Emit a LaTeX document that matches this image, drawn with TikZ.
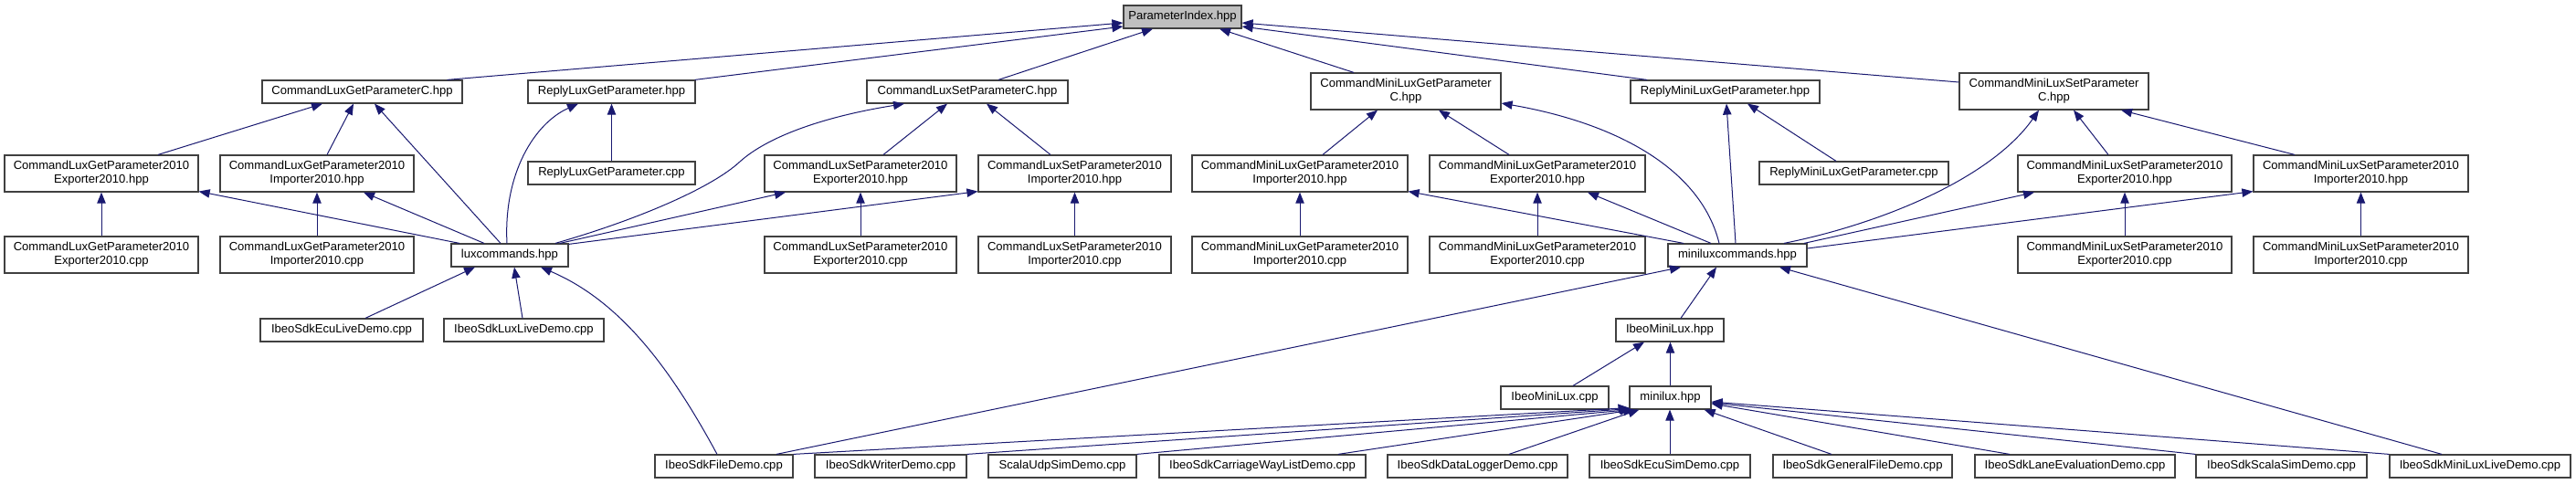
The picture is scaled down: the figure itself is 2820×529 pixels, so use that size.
\documentclass[tikz,border=0pt]{standalone}
\usepackage{fontspec}
\setmainfont{Liberation Sans}
\usetikzlibrary{arrows.meta,calc}
\definecolor{navy}{HTML}{191970}
\definecolor{pigray}{HTML}{BFBFBF}
\begin{document}
\begin{tikzpicture}[x=0.75pt,y=-0.75pt,
  box/.style={draw=black!75, line width=0.9pt, fill=white, inner sep=0pt, align=center, font=\fontsize{9.8}{11.3}\selectfont},
  bw/.style={minimum width=#1*0.75pt},
  one/.style={minimum height=25*0.75pt},
  two/.style={minimum height=40*0.75pt},
  edge/.style={draw=navy, line width=0.75pt, -{Triangle[length=9pt,width=7pt]}}]
\useasboundingbox[fill=white] (0,0) rectangle (2820,529);
% row 0/1
\node[box,bw=129,one,fill=pigray] (pi) at (1294.5,18.5) {ParameterIndex.hpp};
\node[box,bw=219,one] (clgpc) at (396.5,100.5) {CommandLuxGetParameterC.hpp};
\node[box,bw=183,one] (rlgp) at (669.5,100.5) {ReplyLuxGetParameter.hpp};
\node[box,bw=220,one] (clspc) at (1059,100.5) {CommandLuxSetParameterC.hpp};
\node[box,bw=208,two] (cmlgpc) at (1539,100) {CommandMiniLuxGetParameter\\C.hpp};
\node[box,bw=207,one] (rmlgp) at (1888.5,100.5) {ReplyMiniLuxGetParameter.hpp};
\node[box,bw=207,two] (cmlspc) at (2248.5,100) {CommandMiniLuxSetParameter\\C.hpp};
% row 2
\node[box,bw=212,two] (clgpeh) at (111,190) {CommandLuxGetParameter2010\\Exporter2010.hpp};
\node[box,bw=212,two] (clgpih) at (347,190) {CommandLuxGetParameter2010\\Importer2010.hpp};
\node[box,bw=183,one] (rlgpcpp) at (669.5,189.5) {ReplyLuxGetParameter.cpp};
\node[box,bw=210,two] (clspeh) at (942,190) {CommandLuxSetParameter2010\\Exporter2010.hpp};
\node[box,bw=211,two] (clspih) at (1176.5,190) {CommandLuxSetParameter2010\\Importer2010.hpp};
\node[box,bw=236,two] (cmlgpih) at (1423,190) {CommandMiniLuxGetParameter2010\\Importer2010.hpp};
\node[box,bw=236,two] (cmlgpeh) at (1683,190) {CommandMiniLuxGetParameter2010\\Exporter2010.hpp};
\node[box,bw=207,one] (rmlgpcpp) at (2029.5,189.5) {ReplyMiniLuxGetParameter.cpp};
\node[box,bw=234,two] (cmlspeh) at (2326,190) {CommandMiniLuxSetParameter2010\\Exporter2010.hpp};
\node[box,bw=235,two] (cmlspih) at (2584.5,190) {CommandMiniLuxSetParameter2010\\Importer2010.hpp};
% row 3
\node[box,bw=212,two] (clgpec) at (111,279) {CommandLuxGetParameter2010\\Exporter2010.cpp};
\node[box,bw=212,two] (clgpic) at (347,279) {CommandLuxGetParameter2010\\Importer2010.cpp};
\node[box,bw=128,one] (lux) at (558,279.5) {luxcommands.hpp};
\node[box,bw=210,two] (clspec) at (942,279) {CommandLuxSetParameter2010\\Exporter2010.cpp};
\node[box,bw=211,two] (clspic) at (1176.5,279) {CommandLuxSetParameter2010\\Importer2010.cpp};
\node[box,bw=236,two] (cmlgpic) at (1423,279) {CommandMiniLuxGetParameter2010\\Importer2010.cpp};
\node[box,bw=236,two] (cmlgpec) at (1683,279) {CommandMiniLuxGetParameter2010\\Exporter2010.cpp};
\node[box,bw=152,one] (mlux) at (1902,279.5) {miniluxcommands.hpp};
\node[box,bw=234,two] (cmlspec) at (2326,279) {CommandMiniLuxSetParameter2010\\Exporter2010.cpp};
\node[box,bw=235,two] (cmlspic) at (2584.5,279) {CommandMiniLuxSetParameter2010\\Importer2010.cpp};
% row 4/5
\node[box,bw=178,one] (eculive) at (374,361.5) {IbeoSdkEcuLiveDemo.cpp};
\node[box,bw=175,one] (luxlive) at (573.5,361.5) {IbeoSdkLuxLiveDemo.cpp};
\node[box,bw=118,one] (imlh) at (1828,361.5) {IbeoMiniLux.hpp};
\node[box,bw=118,one] (imlcpp) at (1702,435.5) {IbeoMiniLux.cpp};
\node[box,bw=89,one] (minilux) at (1828.5,435.5) {minilux.hpp};
% row 6
\node[box,bw=151,one] (file) at (792.5,510.5) {IbeoSdkFileDemo.cpp};
\node[box,bw=166,one] (writer) at (975,510.5) {IbeoSdkWriterDemo.cpp};
\node[box,bw=162,one] (scalaudp) at (1163,510.5) {ScalaUdpSimDemo.cpp};
\node[box,bw=226,one] (carriage) at (1382,510.5) {IbeoSdkCarriageWayListDemo.cpp};
\node[box,bw=197,one] (datalogger) at (1617.5,510.5) {IbeoSdkDataLoggerDemo.cpp};
\node[box,bw=176,one] (ecusim) at (1828,510.5) {IbeoSdkEcuSimDemo.cpp};
\node[box,bw=196,one] (general) at (2039,510.5) {IbeoSdkGeneralFileDemo.cpp};
\node[box,bw=219,one] (lane) at (2271.5,510.5) {IbeoSdkLaneEvaluationDemo.cpp};
\node[box,bw=187,one] (scalasim) at (2497.5,510.5) {IbeoSdkScalaSimDemo.cpp};
\node[box,bw=198,one] (mllive) at (2715,510.5) {IbeoSdkMiniLuxLiveDemo.cpp};
% edges into ParameterIndex
\draw[edge] ($(clgpc.north)+(93,0)$) -- ($(pi.west)+(0,6.5)$);
\draw[edge] ($(rlgp.north east)+(-1,0)$) -- ($(pi.west)+(0,10.5)$);
\draw[edge] ($(clspc.north)+(34,0)$) -- ($(pi.south)+(-32.5,0)$);
\draw[edge] ($(cmlgpc.north)+(-57,0)$) -- ($(pi.south)+(40.5,0)$);
\draw[edge] ($(rmlgp.north)+(-85.5,0)$) -- ($(pi.east)+(0,10.5)$);
\draw[edge] ($(cmlspc.west)+(0,-10)$) -- ($(pi.east)+(0,6.5)$);
% CommandLuxGetParameterC
\draw[edge] ($(clgpeh.north)+(62,0)$) -- ($(clgpc.south)+(-43.5,0)$);
\draw[edge] ($(clgpih.north)+(11,0)$) -- ($(clgpc.south)+(-9.5,0)$);
\draw[edge] ($(lux.north)+(-10,0)$) -- ($(clgpc.south)+(13.5,0)$);
% ReplyLuxGetParameter
\draw[edge] ($(lux.north)+(-3,0)$) .. controls (551,190) and (585,135) .. ($(rlgp.south)+(-36.5,0)$);
\draw[edge] (rlgpcpp.north) -- (rlgp.south);
% CommandLuxSetParameterC
\draw[edge] ($(lux.north)+(50,0)$) .. controls (700,240) and (780,205) .. (810,177) .. controls (840,150) and (900,128) .. ($(clspc.south)+(-69,0)$);
\draw[edge] ($(clspeh.north)+(25,0)$) -- ($(clspc.south)+(-22,0)$);
\draw[edge] ($(clspih.north)+(-26.5,0)$) -- ($(clspc.south)+(21,0)$);
% row 2 lux parents
\draw[edge] ($(lux.north)+(55,0)$) -- ($(clspeh.south)+(-82,0)$);
\draw[edge] ($(lux.north east)+(0,1)$) -- ($(clspih.south west)+(0,-1)$);
\draw[edge] ($(lux.north)+(-55,0)$) -- ($(clgpeh.south east)+(0,-1)$);
\draw[edge] ($(lux.north)+(-28,0)$) -- ($(clgpih.south)+(51,0)$);
\draw[edge] (clgpec.north) -- (clgpeh.south);
\draw[edge] (clgpic.north) -- (clgpih.south);
\draw[edge] (clspec.north) -- (clspeh.south);
\draw[edge] (clspic.north) -- (clspih.south);
% CommandMiniLuxGetParameterC
\draw[edge] ($(cmlgpih.north)+(25,0)$) -- ($(cmlgpc.south)+(-31,0)$);
\draw[edge] ($(cmlgpeh.north)+(-31,0)$) -- ($(cmlgpc.south)+(36,0)$);
\draw[edge] ($(mlux.north)+(-20,0)$) .. controls (1862,185) and (1770,135) .. ($(cmlgpc.east)+(0,13)$);
\draw[edge] ($(mlux.north)+(-59,0)$) -- ($(cmlgpih.south east)+(0,-1)$);
\draw[edge] ($(mlux.north)+(-29,0)$) -- ($(cmlgpeh.south)+(55,0)$);
\draw[edge] (cmlgpic.north) -- (cmlgpih.south);
\draw[edge] (cmlgpec.north) -- (cmlgpeh.south);
% ReplyMiniLuxGetParameter
\draw[edge] ($(mlux.north)+(-2,0)$) -- ($(rmlgp.south)+(1.5,0)$);
\draw[edge] ($(rmlgpcpp.north)+(-19.5,0)$) -- ($(rmlgp.south)+(24.5,0)$);
% CommandMiniLuxSetParameterC
\draw[edge] ($(mlux.north)+(51,0)$) .. controls (2060,245) and (2180,195) .. ($(cmlspc.south)+(-16.5,0)$);
\draw[edge] ($(mlux.north)+(73,0)$) -- ($(cmlspeh.south)+(-99,0)$);
\draw[edge] ($(mlux.east)+(0,-7.5)$) -- ($(cmlspih.south west)+(0,-1)$);
\draw[edge] ($(cmlspeh.north)+(-18,0)$) -- ($(cmlspc.south)+(21.5,0)$);
\draw[edge] ($(cmlspih.north)+(-72.5,0)$) -- ($(cmlspc.south)+(73.5,0)$);
\draw[edge] (cmlspec.north) -- (cmlspeh.south);
\draw[edge] (cmlspic.north) -- (cmlspih.south);
% luxcommands children
\draw[edge] ($(eculive.north)+(26,0)$) -- ($(lux.south)+(-38,0)$);
\draw[edge] ($(luxlive.north)+(-1.5,0)$) -- ($(lux.south)+(5,0)$);
\draw[edge] ($(file.north)+(-7.5,0)$) .. controls (735,405) and (680,330) .. ($(lux.south)+(34,0)$);
% miniluxcommands children
\draw[edge] ($(file.north)+(57.5,0)$) -- ($(mlux.south)+(-62,0)$);
\draw[edge] ($(mllive.north)+(-42,0)$) -- ($(mlux.south)+(46,0)$);
\draw[edge] ($(imlh.north)+(12,0)$) -- ($(mlux.south)+(-23,0)$);
% IbeoMiniLux.hpp
\draw[edge] ($(imlcpp.north)+(20,0)$) -- ($(imlh.south)+(-28,0)$);
\draw[edge] (minilux.north) -- (minilux.north |- imlh.south);
% minilux.hpp children
\draw[edge] (file.north east) -- ($(minilux.south west)+(0,-2)$);
\draw[edge] (writer.north east) -- ($(minilux.south west)+(1,-1)$);
\draw[edge] (scalaudp.north east) -- ($(minilux.south west)+(2,0)$);
\draw[edge] ($(carriage.north)+(83,0)$) -- ($(minilux.south west)+(6,0)$);
\draw[edge] ($(datalogger.north)+(34.5,0)$) -- ($(minilux.south west)+(11,0)$);
\draw[edge] (ecusim.north) -- (ecusim.north |- minilux.south);
\draw[edge] ($(general.north)+(-34,0)$) -- ($(minilux.south east)+(-8,0)$);
\draw[edge] ($(lane.north)+(-71.5,0)$) -- ($(minilux.east)+(0,6.5)$);
\draw[edge] (scalasim.north west) -- ($(minilux.east)+(0,5.5)$);
\draw[edge] (mllive.north west) -- ($(minilux.east)+(0,4.5)$);
\end{tikzpicture}
\end{document}
